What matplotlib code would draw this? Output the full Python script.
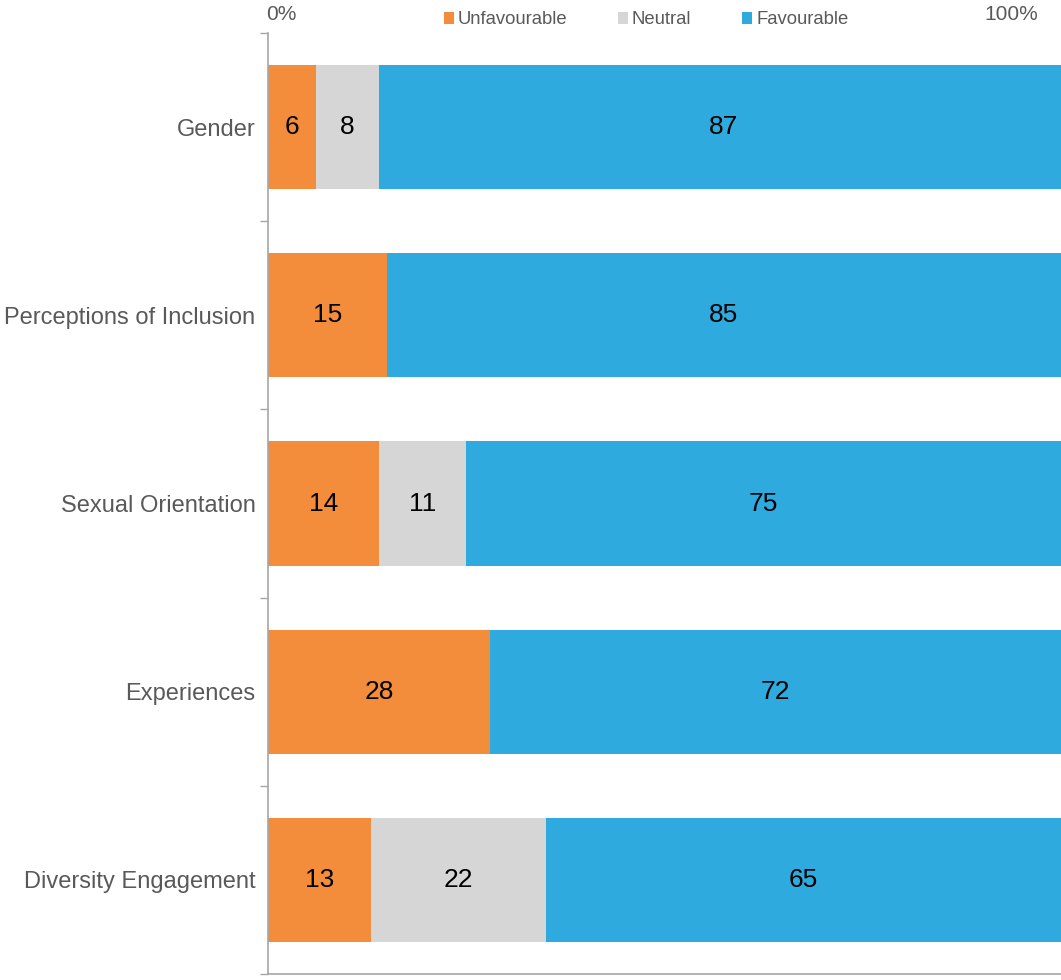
import numpy as np
import matplotlib.pyplot as plt

plt.rcParams['font.family'] = ['Liberation Sans', 'DejaVu Sans']

categories = ['Gender', 'Perceptions of Inclusion', 'Sexual Orientation',
              'Experiences', 'Diversity Engagement']
unfavourable = [6, 15, 14, 28, 13]
neutral = [8, 0, 11, 0, 22]
favourable = [87, 85, 75, 72, 65]

series = [('Unfavourable', unfavourable, '#F48D3B'),
          ('Neutral', neutral, '#D6D6D6'),
          ('Favourable', favourable, '#2EAADF')]

fig = plt.figure(figsize=(10.61, 9.8), dpi=100)
ax = fig.add_axes([268 / 1061, 1 - 974 / 980, 1 - 268 / 1061, (974 - 33) / 980])

y = np.arange(len(categories))
left = np.zeros(len(categories))
for name, vals, col in series:
    vals = np.array(vals, dtype=float)
    ax.barh(y, vals, left=left, height=0.66, color=col, label=name)
    for yi, l, v in zip(y, left, vals):
        if v > 0:
            ax.text(l + v / 2, yi, str(int(v)), ha='center', va='center',
                    fontsize=19, color='black')
    left += vals

ax.set_xlim(0, 100)
ax.set_ylim(len(categories) - 0.5, -0.5)

ax.set_yticks(y)
ax.set_yticklabels(categories, fontsize=17, color='#595959')
ax.tick_params(axis='y', which='major', length=0, pad=9)
ax.set_yticks(np.arange(-0.5, len(categories)), minor=True)
ax.tick_params(axis='y', which='minor', length=6, color='#A6A6A6', width=1)
ax.set_xticks([])

for s in ['top', 'right']:
    ax.spines[s].set_visible(False)
for s in ['left', 'bottom']:
    ax.spines[s].set_color('#A6A6A6')
    ax.spines[s].set_linewidth(1.2)

fig.text(281 / 1061, 1 - 15 / 980, '0%', ha='center', va='center',
         fontsize=15, color='#595959')
fig.text(1011 / 1061, 1 - 15 / 980, '100%', ha='center', va='center',
         fontsize=15, color='#595959')

fig.legend(loc='center', bbox_to_anchor=(646 / 1061, 1 - 20 / 980), ncol=3,
           frameon=False, fontsize=13.3, handlelength=0.55, handleheight=0.55,
           handletextpad=0.2, columnspacing=2.75, labelcolor='#595959',
           borderpad=0, borderaxespad=0)

fig.savefig('out.png', dpi=100)
